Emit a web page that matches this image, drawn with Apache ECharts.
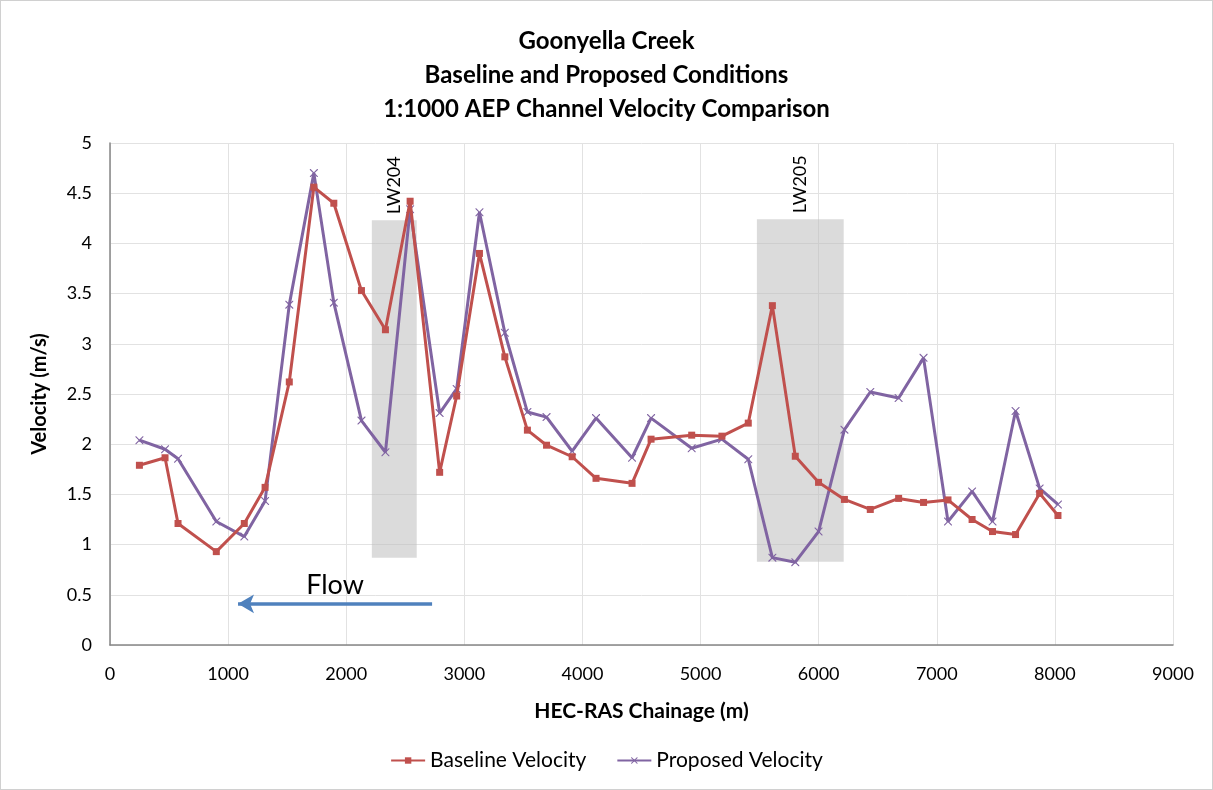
<!DOCTYPE html>
<html>
<head>
<meta charset="utf-8">
<script src="https://cdn.jsdelivr.net/npm/echarts@6/dist/echarts.min.js"></script>
<style>
  html, body { margin: 0; padding: 0; background: #fff; }
  #chart { width: 1213px; height: 790px; box-sizing: border-box; border: 1px solid #d0d0d0; }
</style>
</head>
<body>
<div id="chart"></div>
<script>
// chainage (m) of each cross section
var chainage = [249, 466, 576, 900, 1137, 1313, 1518, 1726, 1895, 2129,
                2332, 2541, 2791, 2935, 3128, 3343, 3534, 3696, 3913, 4115,
                4420, 4581, 4925, 5181, 5404, 5608, 5802, 5999, 6218, 6437,
                6677, 6888, 7095, 7299, 7472, 7667, 7871, 8026];
var baseline = [1.79, 1.865, 1.21, 0.93, 1.21, 1.57, 2.62, 4.56, 4.40, 3.53,
                3.14, 4.42, 1.72, 2.48, 3.90, 2.87, 2.14, 1.99, 1.875, 1.66,
                1.61, 2.05, 2.09, 2.08, 2.21, 3.38, 1.88, 1.62, 1.45, 1.35,
                1.46, 1.42, 1.445, 1.25, 1.13, 1.10, 1.51, 1.29];
var proposed = [2.04, 1.95, 1.855, 1.23, 1.08, 1.435, 3.39, 4.70, 3.41, 2.235,
                1.92, 4.34, 2.31, 2.55, 4.31, 3.11, 2.32, 2.27, 1.93, 2.26,
                1.865, 2.26, 1.96, 2.05, 1.85, 0.87, 0.825, 1.13, 2.145, 2.52,
                2.46, 2.86, 1.23, 1.53, 1.23, 2.33, 1.56, 1.40];
// longwall panel extents [name, xFrom, xTo, yFrom, yTo]
var panels = [['LW204', 2217, 2597, 0.87, 4.23], ['LW205', 5477, 6212, 0.83, 4.24]];
var flowArrow = [[2727, 0.41], [1084, 0.41]];

var FONT = 'Lato, "Open Sans", sans-serif';

function zip(xs, ys) {
    var out = [];
    for (var i = 0; i < xs.length; i++) out.push([xs[i], ys[i]]);
    return out;
}

var chart = echarts.init(document.getElementById('chart'));

var option = {
    animation: false,
    backgroundColor: '#fff',
    title: {
        text: 'Goonyella Creek\nBaseline and Proposed Conditions\n1:1000 AEP Channel Velocity Comparison',
        left: 'center',
        top: 18,
        textStyle: { fontFamily: FONT, fontSize: 24, fontWeight: 'bold', color: '#000', lineHeight: 34 }
    },
    legend: {
        bottom: 13,
        left: 'center',
        itemWidth: 34,
        itemHeight: 8,
        itemGap: 30,
        textStyle: { fontFamily: FONT, fontSize: 21, color: '#000' },
        data: ['Baseline Velocity', 'Proposed Velocity']
    },
    grid: { left: 109, right: 39, top: 142, bottom: 144 },
    xAxis: {
        type: 'value',
        min: 0, max: 9000, interval: 1000,
        name: 'HEC-RAS Chainage (m)',
        nameLocation: 'middle',
        nameGap: 56,
        nameTextStyle: { fontFamily: FONT, fontSize: 21, fontWeight: 'bold', color: '#000' },
        axisLine: { lineStyle: { color: '#868686', width: 1.5 } },
        axisTick: { show: false },
        axisLabel: {
            fontFamily: FONT, fontSize: 18, color: '#000', margin: 20,
            formatter: function (v) { return String(v); }
        },
        splitLine: { show: true, lineStyle: { color: '#e2e2e2' } }
    },
    yAxis: {
        type: 'value',
        min: 0, max: 5, interval: 0.5,
        name: 'Velocity (m/s)',
        nameLocation: 'middle',
        nameGap: 60,
        nameTextStyle: { fontFamily: FONT, fontSize: 20, fontWeight: 'bold', color: '#000' },
        axisLine: { show: true, lineStyle: { color: '#868686', width: 1.5 } },
        axisTick: { show: false },
        axisLabel: { fontFamily: FONT, fontSize: 18, color: '#000', margin: 18 },
        splitLine: { show: true, lineStyle: { color: '#e2e2e2' } }
    },
    series: [
        {
            name: 'Baseline Velocity',
            type: 'line',
            data: zip(chainage, baseline),
            symbol: 'rect',
            symbolSize: 7,
            z: 3,
            lineStyle: { color: '#c0504d', width: 3 },
            itemStyle: { color: '#c0504d' },
            markArea: {
                silent: true,
                itemStyle: { color: 'rgba(190,190,190,0.55)' },
                label: {
                    show: true,
                    position: 'top',
                    rotate: 90,
                    align: 'left',
                    verticalAlign: 'middle',
                    distance: 6,
                    fontFamily: FONT,
                    fontSize: 18,
                    color: '#000'
                },
                data: panels.map(function (p) {
                    return [{ name: p[0], coord: [p[1], p[4]] }, { coord: [p[2], p[3]] }];
                })
            }
        },
        {
            name: 'Proposed Velocity',
            type: 'line',
            data: zip(chainage, proposed),
            symbol: 'path://M0,0L1,0L5,4L9,0L10,0L10,1L6,5L10,9L10,10L9,10L5,6L1,10L0,10L0,9L4,5L0,1Z',
            symbolSize: 8,
            z: 2,
            lineStyle: { color: '#8064a2', width: 3 },
            itemStyle: { color: '#8064a2' },
            markLine: {
                silent: true,
                symbol: ['none', 'arrow'],
                symbolSize: [14, 16],
                lineStyle: { color: '#4f81bd', width: 3.5, type: 'solid' },
                label: {
                    show: true,
                    position: 'middle',
                    formatter: 'Flow',
                    fontFamily: FONT,
                    fontSize: 27,
                    color: '#000',
                    distance: 5
                },
                data: [[{ coord: flowArrow[0] }, { coord: flowArrow[1] }]]
            }
        }
    ]
};

chart.setOption(option);
</script>
</body>
</html>
